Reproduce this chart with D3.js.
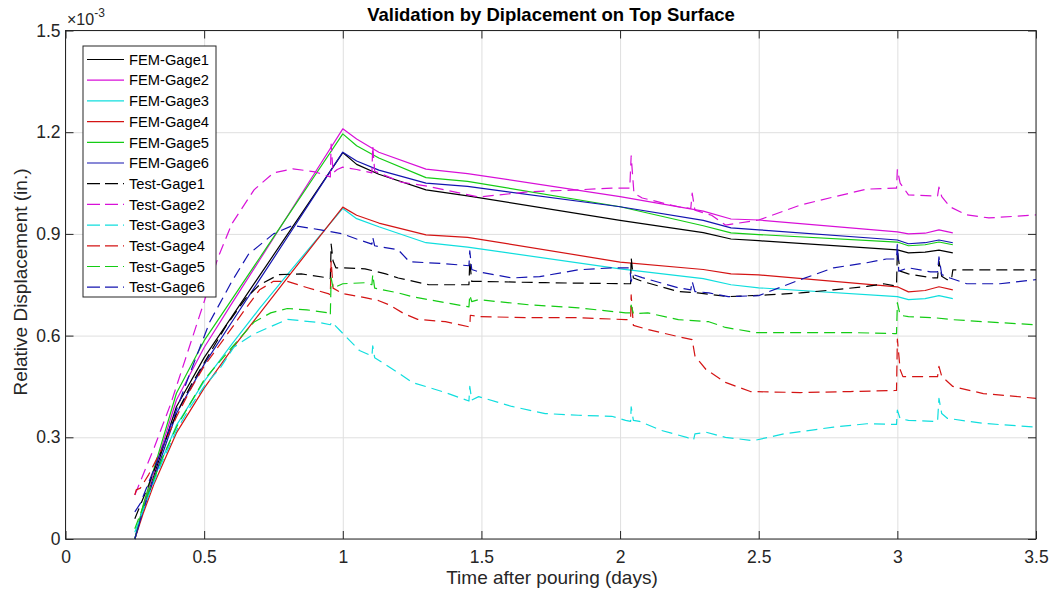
<!DOCTYPE html>
<html>
<head>
<meta charset="utf-8">
<script src="https://cdn.jsdelivr.net/npm/d3@7"></script>
<style>
  html, body { margin: 0; padding: 0; background: #fff; }
  svg { display: block; font-family: "Liberation Sans", Arial, Helvetica, sans-serif; }
</style>
</head>
<body>
<svg id="chart" width="1049" height="599"></svg>
<script>
// ---- data (values in units of 1e-3 in.) ----
const xTicks = [0, 0.5, 1, 1.5, 2, 2.5, 3, 3.5];
const xTickLabels = ["0", "0.5", "1", "1.5", "2", "2.5", "3", "3.5"];
const yTicks = [0, 0.3, 0.6, 0.9, 1.2, 1.5];
const yTickLabels = ["0", "0.3", "0.6", "0.9", "1.2", "1.5"];

const seriesNames = ["FEM-Gage1", "FEM-Gage2", "FEM-Gage3", "FEM-Gage4", "FEM-Gage5", "FEM-Gage6",
                     "Test-Gage1", "Test-Gage2", "Test-Gage3", "Test-Gage4", "Test-Gage5", "Test-Gage6"];

// FEM results (shared time axis)
const femTime = [0.25, 0.28, 0.32, 0.4, 0.5, 0.6, 0.7, 0.8, 0.9, 1.0, 1.05, 1.13, 1.3, 1.45, 2.0, 2.3, 2.4, 2.5, 3.0, 3.04, 3.1, 3.15, 3.2];
const femGage1 = [0, 0.09, 0.19, 0.39, 0.535, 0.656, 0.777, 0.898, 1.019, 1.14, 1.105, 1.076, 1.03, 1.012, 0.94, 0.904, 0.885, 0.88, 0.853, 0.844, 0.846, 0.852, 0.844];
const femGage2 = [0, 0.095, 0.2, 0.41, 0.565, 0.695, 0.823, 0.952, 1.081, 1.21, 1.18, 1.141, 1.091, 1.078, 1.01, 0.967, 0.944, 0.941, 0.906, 0.9, 0.902, 0.912, 0.903];
const femGage3 = [0, 0.085, 0.18, 0.335, 0.465, 0.575, 0.68, 0.78, 0.878, 0.975, 0.945, 0.921, 0.874, 0.861, 0.797, 0.768, 0.75, 0.741, 0.715, 0.706, 0.709, 0.718, 0.709];
const femGage4 = [0, 0.075, 0.164, 0.313, 0.445, 0.56, 0.665, 0.77, 0.875, 0.979, 0.955, 0.932, 0.897, 0.89, 0.817, 0.795, 0.782, 0.779, 0.744, 0.729, 0.733, 0.744, 0.735];
const femGage5 = [0, 0.1, 0.21, 0.43, 0.585, 0.707, 0.829, 0.951, 1.073, 1.195, 1.16, 1.124, 1.066, 1.055, 0.98, 0.924, 0.903, 0.898, 0.876, 0.865, 0.868, 0.876, 0.868];
const femGage6 = [0, 0.085, 0.18, 0.37, 0.515, 0.64, 0.765, 0.89, 1.016, 1.141, 1.115, 1.088, 1.05, 1.04, 0.98, 0.94, 0.918, 0.912, 0.882, 0.871, 0.874, 0.882, 0.874];

// Test measurements
const testTime1 = [0.25,0.27,0.3,0.35,0.4,0.45,0.5,0.58,0.65,0.7,0.77,0.85,0.94,0.955,0.958,0.965,0.975,1.0,1.08,1.155,1.2,1.31,1.455,1.458,1.465,1.49,1.73,2.02,2.038,2.04,2.048,2.08,2.21,2.28,2.39,2.53,2.65,2.77,2.89,2.95,2.99,2.997,3.0,3.01,3.04,3.13,3.145,3.15,3.16,3.18,3.195,3.2,3.3,3.5];
const testGage1 = [0.06,0.1,0.16,0.27,0.37,0.45,0.52,0.63,0.71,0.75,0.78,0.782,0.771,0.768,0.87,0.82,0.8,0.8,0.797,0.782,0.77,0.75,0.75,0.82,0.76,0.76,0.756,0.753,0.753,0.83,0.77,0.76,0.73,0.726,0.715,0.72,0.726,0.735,0.745,0.753,0.747,0.747,0.85,0.79,0.782,0.77,0.77,0.82,0.775,0.765,0.765,0.794,0.794,0.794];

const testTime2 = [0.25,0.26,0.32,0.38,0.44,0.5,0.55,0.6,0.68,0.75,0.82,0.9,0.955,0.958,0.965,0.98,1.0,1.05,1.105,1.108,1.115,1.21,1.31,1.49,1.67,1.85,1.97,2.035,2.04,2.05,2.08,2.21,2.255,2.26,2.27,2.33,2.38,2.5,2.65,2.77,2.89,2.99,2.997,3.0,3.01,3.04,3.13,3.145,3.15,3.16,3.19,3.25,3.33,3.5];
const testGage2 = [0.13,0.15,0.27,0.4,0.55,0.7,0.83,0.93,1.03,1.08,1.092,1.083,1.068,1.165,1.08,1.09,1.097,1.09,1.08,1.16,1.085,1.053,1.04,1.009,1.024,1.03,1.035,1.035,1.13,1.02,1.006,0.98,0.975,1.02,0.97,0.955,0.926,0.941,0.985,1.009,1.032,1.035,1.035,1.09,1.05,1.015,1.012,1.012,1.038,1.01,0.98,0.956,0.947,0.956];

const testTime3 = [0.25,0.3,0.35,0.4,0.45,0.5,0.56,0.607,0.68,0.8,0.92,0.955,0.96,0.99,1.06,1.105,1.108,1.115,1.2,1.25,1.37,1.455,1.458,1.465,1.49,1.61,1.73,1.85,1.97,2.02,2.038,2.04,2.048,2.07,2.15,2.24,2.265,2.27,2.31,2.38,2.48,2.59,2.77,2.89,2.99,2.997,3.0,3.01,3.04,3.13,3.145,3.15,3.16,3.18,3.31,3.5];
const testGage3 = [0.02,0.13,0.23,0.32,0.39,0.45,0.507,0.566,0.605,0.648,0.638,0.632,0.64,0.615,0.556,0.54,0.57,0.535,0.49,0.462,0.432,0.407,0.45,0.41,0.42,0.391,0.37,0.365,0.362,0.35,0.347,0.39,0.35,0.347,0.32,0.3,0.292,0.31,0.315,0.3,0.29,0.31,0.33,0.34,0.338,0.338,0.38,0.355,0.35,0.347,0.347,0.415,0.37,0.356,0.341,0.33];

const testTime4 = [0.25,0.255,0.27,0.3,0.35,0.4,0.45,0.5,0.58,0.65,0.7,0.75,0.8,0.87,0.95,0.955,0.958,0.965,1.0,1.08,1.13,1.17,1.22,1.27,1.37,1.455,1.458,1.46,1.49,1.67,1.85,2.02,2.038,2.04,2.048,2.1,2.21,2.26,2.27,2.31,2.38,2.47,2.65,2.83,2.99,2.997,3.0,3.01,3.02,3.13,3.145,3.15,3.16,3.2,3.31,3.5];
const testGage4 = [0.13,0.145,0.15,0.19,0.27,0.36,0.44,0.51,0.6,0.68,0.735,0.76,0.76,0.742,0.723,0.72,0.82,0.74,0.724,0.712,0.703,0.69,0.665,0.648,0.641,0.626,0.626,0.66,0.656,0.653,0.653,0.647,0.647,0.72,0.63,0.618,0.597,0.588,0.54,0.5,0.462,0.435,0.432,0.435,0.438,0.438,0.59,0.5,0.479,0.479,0.479,0.509,0.48,0.45,0.429,0.415];

const testTime5 = [0.25,0.3,0.35,0.4,0.5,0.584,0.68,0.74,0.8,0.87,0.95,0.955,0.958,0.965,1.0,1.08,1.105,1.108,1.115,1.2,1.25,1.37,1.455,1.458,1.465,1.49,1.67,1.85,2.02,2.038,2.04,2.048,2.1,2.21,2.32,2.38,2.49,2.65,2.83,2.99,2.997,3.0,3.01,3.04,3.13,3.2,3.31,3.5];
const testGage5 = [0.03,0.14,0.24,0.33,0.47,0.55,0.64,0.667,0.68,0.676,0.667,0.66,0.77,0.74,0.753,0.756,0.75,0.78,0.74,0.726,0.715,0.697,0.685,0.72,0.7,0.706,0.691,0.682,0.667,0.667,0.69,0.665,0.667,0.647,0.641,0.624,0.609,0.609,0.609,0.606,0.606,0.697,0.66,0.656,0.653,0.647,0.641,0.632];

const testTime6 = [0.25,0.27,0.355,0.44,0.52,0.6,0.66,0.75,0.82,0.92,1.0,1.05,1.105,1.108,1.115,1.2,1.24,1.37,1.455,1.458,1.465,1.49,1.61,1.71,1.85,1.97,2.035,2.04,2.048,2.08,2.21,2.255,2.26,2.27,2.32,2.39,2.5,2.65,2.77,2.89,2.96,2.997,3.0,3.005,3.04,3.12,3.145,3.15,3.16,3.19,3.25,3.37,3.5];
const testGage6 = [0.08,0.105,0.28,0.47,0.64,0.76,0.84,0.9,0.925,0.912,0.9,0.885,0.87,0.89,0.865,0.853,0.818,0.812,0.806,0.85,0.795,0.788,0.77,0.774,0.794,0.8,0.8,0.76,0.78,0.771,0.741,0.735,0.76,0.73,0.726,0.715,0.718,0.765,0.8,0.815,0.826,0.826,0.87,0.79,0.8,0.788,0.788,0.832,0.78,0.77,0.753,0.753,0.765];

const seriesColors = ["#000000", "#d810d8", "#10dede", "#d41414", "#14cc14", "#1414b0"];

// ---- build series ----
function zip(xs, ys) { return xs.map((x, i) => ({ x: x, y: ys[i] })); }
const series = [
  { name: seriesNames[0], color: seriesColors[0], dashed: false, pts: zip(femTime, femGage1) },
  { name: seriesNames[1], color: seriesColors[1], dashed: false, pts: zip(femTime, femGage2) },
  { name: seriesNames[2], color: seriesColors[2], dashed: false, pts: zip(femTime, femGage3) },
  { name: seriesNames[3], color: seriesColors[3], dashed: false, pts: zip(femTime, femGage4) },
  { name: seriesNames[4], color: seriesColors[4], dashed: false, pts: zip(femTime, femGage5) },
  { name: seriesNames[5], color: seriesColors[5], dashed: false, pts: zip(femTime, femGage6) },
  { name: seriesNames[6], color: seriesColors[0], dashed: true, pts: zip(testTime1, testGage1) },
  { name: seriesNames[7], color: seriesColors[1], dashed: true, pts: zip(testTime2, testGage2) },
  { name: seriesNames[8], color: seriesColors[2], dashed: true, pts: zip(testTime3, testGage3) },
  { name: seriesNames[9], color: seriesColors[3], dashed: true, pts: zip(testTime4, testGage4) },
  { name: seriesNames[10], color: seriesColors[4], dashed: true, pts: zip(testTime5, testGage5) },
  { name: seriesNames[11], color: seriesColors[5], dashed: true, pts: zip(testTime6, testGage6) }
];

// ---- layout ----
const L = 65.5, R = 1036, T = 30.5, B = 539;
const DASH = "11,6";
const svg = d3.select("#chart");
const x = d3.scaleLinear().domain([0, 3.5]).range([L, R]);
const y = d3.scaleLinear().domain([0, 1.5]).range([B, T]);
const axisColor = "#262626";

// grid
const grid = svg.append("g");
grid.append("g").attr("transform", `translate(0,${B})`)
  .call(d3.axisBottom(x).tickValues(xTicks).tickSize(-(B - T)).tickFormat(""))
  .call(g => { g.select(".domain").remove(); g.selectAll("line").attr("stroke", "#dfdfdf").attr("stroke-width", 1); });
grid.append("g").attr("transform", `translate(${L},0)`)
  .call(d3.axisLeft(y).tickValues(yTicks).tickSize(-(R - L)).tickFormat(""))
  .call(g => { g.select(".domain").remove(); g.selectAll("line").attr("stroke", "#dfdfdf").attr("stroke-width", 1); });

// data lines
const line = d3.line().x(d => x(d.x)).y(d => y(d.y));
const plot = svg.append("g");
series.forEach(s => {
  plot.append("path").datum(s.pts)
    .attr("d", line)
    .attr("fill", "none")
    .attr("stroke", s.color)
    .attr("stroke-width", 1.2)
    .attr("stroke-linejoin", "round")
    .attr("stroke-dasharray", s.dashed ? DASH : null);
});

// axes box and ticks
const TL = 8;
function styleAxis(g) {
  g.select(".domain").remove();
  g.selectAll(".tick line").attr("stroke", axisColor).attr("stroke-width", 1);
  g.selectAll(".tick text").attr("fill", axisColor).attr("font-size", "17.5px")
    .attr("font-family", '"Liberation Sans", Arial, sans-serif');
}
svg.append("g").attr("transform", `translate(0,${B})`)
  .call(d3.axisBottom(x).tickValues(xTicks).tickFormat((d, i) => xTickLabels[i]).tickSizeInner(-TL).tickSizeOuter(0).tickPadding(12))
  .call(styleAxis);
svg.append("g").attr("transform", `translate(0,${T})`)
  .call(d3.axisTop(x).tickValues(xTicks).tickFormat("").tickSizeInner(-TL).tickSizeOuter(0))
  .call(styleAxis);
svg.append("g").attr("transform", `translate(${L},0)`)
  .call(d3.axisLeft(y).tickValues(yTicks).tickFormat((d, i) => yTickLabels[i]).tickSizeInner(-TL).tickSizeOuter(0).tickPadding(5))
  .call(styleAxis);
svg.append("g").attr("transform", `translate(${R},0)`)
  .call(d3.axisRight(y).tickValues(yTicks).tickFormat("").tickSizeInner(-TL).tickSizeOuter(0))
  .call(styleAxis);
svg.append("rect").attr("x", L).attr("y", T).attr("width", R - L).attr("height", B - T)
  .attr("fill", "none").attr("stroke", axisColor).attr("stroke-width", 1);

// exponent label
const ex = svg.append("text").attr("x", 67).attr("y", 25).attr("fill", axisColor).attr("font-size", "16px");
ex.append("tspan").text("\u00d710");
ex.append("tspan").attr("dy", -8).attr("font-size", "12px").text("-3");

// title & labels
svg.append("text").attr("x", 551).attr("y", 21).attr("text-anchor", "middle")
  .attr("font-size", "18.5px").attr("font-weight", "bold").attr("fill", "#000")
  .text("Validation by Diplacement on Top Surface");
svg.append("text").attr("x", 552).attr("y", 584).attr("text-anchor", "middle")
  .attr("font-size", "19px").attr("fill", axisColor)
  .text("Time after pouring (days)");
svg.append("text").attr("transform", "translate(27,282) rotate(-90)").attr("text-anchor", "middle")
  .attr("font-size", "19px").attr("fill", axisColor)
  .text("Relative Displacement (in.)");

// legend
const lg = svg.append("g");
lg.append("rect").attr("x", 83).attr("y", 46).attr("width", 133).attr("height", 251)
  .attr("fill", "#fff").attr("stroke", axisColor).attr("stroke-width", 1);
series.forEach((s, i) => {
  const cy = 59.5 + i * 20.7;
  lg.append("line").attr("x1", 87).attr("x2", 124).attr("y1", cy).attr("y2", cy)
    .attr("stroke", s.color).attr("stroke-width", 1.2)
    .attr("stroke-dasharray", s.dashed ? "13,5" : null);
  lg.append("text").attr("x", 129).attr("y", cy).attr("dy", "0.36em")
    .attr("font-size", "14.7px").attr("fill", "#000").text(s.name);
});
</script>
</body>
</html>
